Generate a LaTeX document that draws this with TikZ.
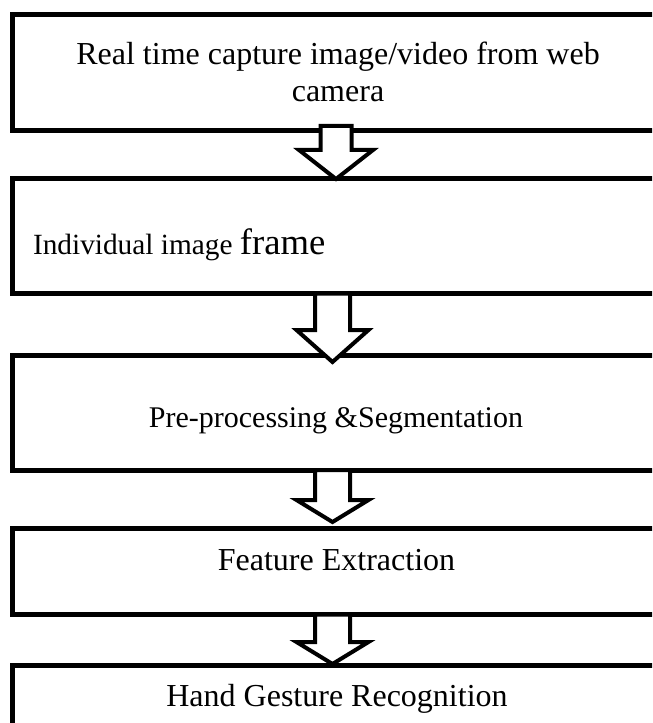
\documentclass[tikz,border=0pt]{standalone}
\usepackage{fontspec}
\setmainfont{Liberation Serif}
\usetikzlibrary{calc}
\tikzset{
  box/.style={draw=black, line width=3.75pt, rectangle, inner sep=0pt, outer sep=0pt, fill=white},
  blk/.style={draw=black, fill=white, line width=3pt, line join=miter},
  lbl/.style={inner sep=0pt, outer sep=0pt, anchor=base},
}
\newcommand\fsA{\fontsize{24pt}{28pt}\selectfont}
\newcommand\fsB{\fontsize{22pt}{26pt}\selectfont}
\newcommand\fsP{\fontsize{22.5pt}{26pt}\selectfont}
\newcommand\fsC{\fontsize{27.5pt}{32pt}\selectfont}
\begin{document}
\begin{tikzpicture}[x=0.75pt,y=-0.75pt]
\useasboundingbox (0,0) rectangle (652,723);
\clip (0,0) rectangle (652,723);
\fill[white] (0,0) rectangle (652,723);
% boxes
\node[box, minimum width=488.25pt, minimum height=87pt] (b1) at (338,72.5) {};
\node[box, minimum width=488.25pt, minimum height=86.25pt] (b2) at (338,236) {};
\node[box, minimum width=488.25pt, minimum height=86.25pt] (b3) at (338,412.5) {};
\node[box, minimum width=488.25pt, minimum height=64.5pt] (b4) at (338,571.5) {};
\node[box, minimum width=488.25pt, minimum height=93.4pt] (b5) at (338,727.75) {};
% block arrows
\draw[blk] ($(b1.south)+(-17.5,-4.5)$) -- ++(0,24) -- ++(-21.5,0)
  -- ($(b2.north)+(-2,0.5)$) -- ($(b1.south)+(35,19.5)$) -- ++(-21.5,0) -- ++(0,-24) -- cycle;
\draw[blk] ($(b2.south)+(-23,0)$) -- ++(0,36.5) -- ++(-18.5,0)
  -- ($(b3.north)+(-5.5,7)$) -- ($(b2.south)+(30.5,36.5)$) -- ++(-18.5,0) -- ++(0,-36.5) -- cycle;
\draw[blk] ($(b3.south)+(-23,0)$) -- ++(0,30) -- ++(-18.5,0)
  -- ($(b4.north)+(-5.5,-6.5)$) -- ($(b3.south)+(30.5,30)$) -- ++(-18.5,0) -- ++(0,-30) -- cycle;
\draw[blk] ($(b4.south)+(-23,0)$) -- ++(0,27.5) -- ++(-18.5,0)
  -- ($(b5.north)+(-5.5,-1.5)$) -- ($(b4.south)+(30.5,27.5)$) -- ++(-18.5,0) -- ++(0,-27.5) -- cycle;
% labels
\node[lbl] (t1a) at (338,65) {\fsA Real time capture image/video from web};
\node[lbl] (t1b) at (338,102) {\fsA camera};
\node[lbl, anchor=base west] (t2) at (33,254) {\fsB Individual image \fsC frame};
\node[lbl] (t3) at (336,427) {\fsP Pre-processing \&Segmentation};
\node[lbl] (t4) at (336.5,570) {\fsA Feature Extraction};
\node[lbl] (t5) at (337,706) {\fsA Hand Gesture Recognition};
\end{tikzpicture}
\end{document}
